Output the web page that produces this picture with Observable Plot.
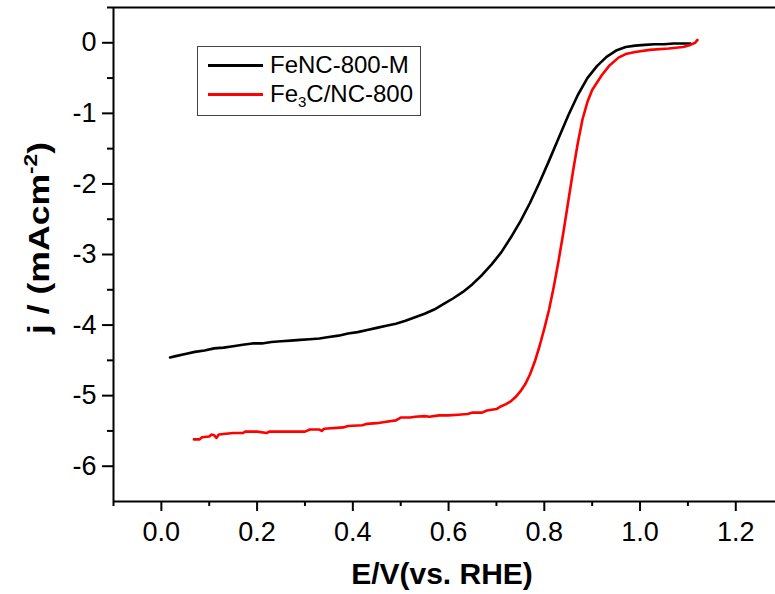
<!DOCTYPE html>
<html>
<head>
<meta charset="utf-8">
<script src="https://cdn.jsdelivr.net/npm/d3@7"></script>
<script src="https://cdn.jsdelivr.net/npm/@observablehq/plot@0.6"></script>
<style>
  body { margin: 0; background: #fff; }
  #wrap { position: relative; width: 775px; height: 594px; overflow: hidden; font-family: "Liberation Sans", Arial, sans-serif; }
  #legend { position: absolute; left: 197px; top: 46px; width: 222px; height: 68px; border: 1px solid #444; background: #fff; }
  .row { position: absolute; left: 0; height: 28px; width: 100%; }
  .sw { position: absolute; left: 10px; top: 13px; width: 55px; height: 3px; }
  .lab { position: absolute; left: 72px; top: 0; font-size: 24px; line-height: 28px; color: #000; white-space: nowrap; }
  .lab sub { font-size: 15px; vertical-align: -5px; line-height: 0; }
</style>
</head>
<body>
<div id="wrap"></div>
<script>
// ---- data ----
const seriesNames = ["FeNC-800-M", "Fe3C/NC-800"];
const seriesColors = ["#000000", "#ff0000"];

const blackE = [0.018, 0.03, 0.05, 0.07, 0.09, 0.11, 0.13, 0.15, 0.17, 0.19, 0.21, 0.23, 0.25, 0.27, 0.29, 0.31, 0.33, 0.35, 0.37, 0.39, 0.41, 0.43, 0.45, 0.47, 0.49, 0.51, 0.53, 0.55, 0.57, 0.59, 0.61, 0.63, 0.65, 0.67, 0.69, 0.71, 0.73, 0.75, 0.77, 0.79, 0.81, 0.83, 0.85, 0.87, 0.89, 0.91, 0.93, 0.95, 0.97, 0.99, 1.01, 1.03, 1.05, 1.07, 1.09, 1.105];
const blackJ = [-4.46, -4.44, -4.41, -4.38, -4.36, -4.33, -4.32, -4.30, -4.28, -4.26, -4.26, -4.24, -4.23, -4.22, -4.21, -4.20, -4.19, -4.17, -4.15, -4.12, -4.10, -4.07, -4.04, -4.01, -3.98, -3.94, -3.89, -3.84, -3.78, -3.70, -3.62, -3.53, -3.42, -3.29, -3.14, -2.97, -2.76, -2.53, -2.27, -1.98, -1.67, -1.35, -1.03, -0.74, -0.50, -0.33, -0.20, -0.11, -0.06, -0.04, -0.03, -0.02, -0.02, -0.01, -0.01, -0.01];

const redE = [0.068, 0.08, 0.085, 0.10, 0.105, 0.11, 0.115, 0.12, 0.15, 0.17, 0.175, 0.20, 0.22, 0.225, 0.30, 0.31, 0.33, 0.335, 0.34, 0.38, 0.39, 0.42, 0.43, 0.45, 0.47, 0.49, 0.50, 0.52, 0.53, 0.55, 0.56, 0.58, 0.60, 0.62, 0.64, 0.65, 0.67, 0.68, 0.70, 0.71, 0.72, 0.73, 0.74, 0.75, 0.76, 0.77, 0.78, 0.79, 0.80, 0.81, 0.82, 0.83, 0.84, 0.85, 0.86, 0.87, 0.88, 0.89, 0.90, 0.92, 0.935, 0.955, 0.97, 0.99, 1.02, 1.06, 1.09, 1.105, 1.115, 1.12];
const redJ = [-5.62, -5.62, -5.59, -5.58, -5.55, -5.56, -5.60, -5.55, -5.53, -5.53, -5.51, -5.51, -5.53, -5.51, -5.51, -5.48, -5.48, -5.50, -5.47, -5.45, -5.43, -5.42, -5.40, -5.39, -5.37, -5.35, -5.31, -5.31, -5.30, -5.29, -5.30, -5.28, -5.28, -5.27, -5.26, -5.24, -5.24, -5.21, -5.19, -5.15, -5.12, -5.08, -5.02, -4.94, -4.84, -4.70, -4.52, -4.30, -4.05, -3.78, -3.45, -3.08, -2.68, -2.25, -1.82, -1.42, -1.08, -0.84, -0.67, -0.46, -0.33, -0.21, -0.16, -0.13, -0.10, -0.08, -0.06, -0.03, 0.00, 0.04];

const xDomain = [-0.1, 1.283];
const yDomain = [-6.5, 0.5];
const xMajorTicks = [0.0, 0.2, 0.4, 0.6, 0.8, 1.0, 1.2];
const xMinorTicks = [-0.1, 0.1, 0.3, 0.5, 0.7, 0.9, 1.1];
const yMajorTicks = [0, -1, -2, -3, -4, -5, -6];
const yMinorTicks = [0.5, -0.5, -1.5, -2.5, -3.5, -4.5, -5.5];
const xTitle = "E/V(vs. RHE)";

// ---- build tables ----
const black = blackE.map((e, i) => ({E: e, j: blackJ[i]}));
const red = redE.map((e, i) => ({E: e, j: redJ[i]}));

const W = 775, H = 594;
const chart = Plot.plot({
  width: W, height: H,
  marginLeft: 113, marginRight: 0, marginTop: 7, marginBottom: 93,
  style: { fontFamily: "Liberation Sans, Arial, sans-serif", fontSize: "27px", color: "#000", background: "#fff" },
  x: { domain: xDomain, axis: null },
  y: { domain: yDomain, axis: null },
  marks: [
    Plot.line(black, { x: "E", y: "j", stroke: seriesColors[0], strokeWidth: 2.6 }),
    Plot.line(red, { x: "E", y: "j", stroke: seriesColors[1], strokeWidth: 2.6 }),
    Plot.ruleY([yDomain[1]], { stroke: "#000", strokeWidth: 2 }),
    Plot.ruleY([yDomain[0]], { stroke: "#000", strokeWidth: 2 }),
    Plot.ruleX([xDomain[0]], { stroke: "#000", strokeWidth: 2 }),
    Plot.axisX(xMajorTicks, { anchor: "bottom", tickSize: 10, tickPadding: 10, strokeWidth: 2, fontSize: 27, tickFormat: d => d.toFixed(1), label: null }),
    Plot.axisX(xMinorTicks, { anchor: "bottom", tickSize: 5, strokeWidth: 2, tickFormat: () => "", label: null }),
    Plot.axisY(yMajorTicks, { anchor: "left", tickSize: 11, tickPadding: 6, strokeWidth: 2, fontSize: 27, tickFormat: d => `${d}`, label: null }),
    Plot.axisY(yMinorTicks, { anchor: "left", tickSize: 6, strokeWidth: 2, tickFormat: () => "", label: null })
  ]
});

const wrap = document.getElementById("wrap");
wrap.appendChild(chart);

// axis titles
const svg = d3.select(chart);
svg.append("text")
  .attr("x", 442).attr("y", 573).attr("dy", "0.35em")
  .attr("text-anchor", "middle")
  .attr("font-weight", "bold").attr("font-size", 30)
  .attr("font-family", "Liberation Sans, Arial, sans-serif")
  .text(xTitle);

const yt = svg.append("text")
  .attr("transform", "translate(38,238) rotate(-90)")
  .attr("dy", "0.35em")
  .attr("text-anchor", "middle")
  .attr("font-weight", "bold").attr("font-size", 30)
  .attr("textLength", 192).attr("lengthAdjust", "spacingAndGlyphs")
  .attr("font-family", "Liberation Sans, Arial, sans-serif");
yt.append("tspan").text("j / (mAcm");
yt.append("tspan").attr("font-size", 19).attr("dy", -12).text("-2");
yt.append("tspan").attr("dy", 12).text(")");

// legend
const legend = document.createElement("div");
legend.id = "legend";
legend.innerHTML = `
  <div class="row" style="top:4px"><div class="sw" style="background:${seriesColors[0]}"></div><div class="lab">${seriesNames[0]}</div></div>
  <div class="row" style="top:33px"><div class="sw" style="background:${seriesColors[1]}"></div><div class="lab">Fe<sub>3</sub>C/NC-800</div></div>`;
wrap.appendChild(legend);
</script>
</body>
</html>
